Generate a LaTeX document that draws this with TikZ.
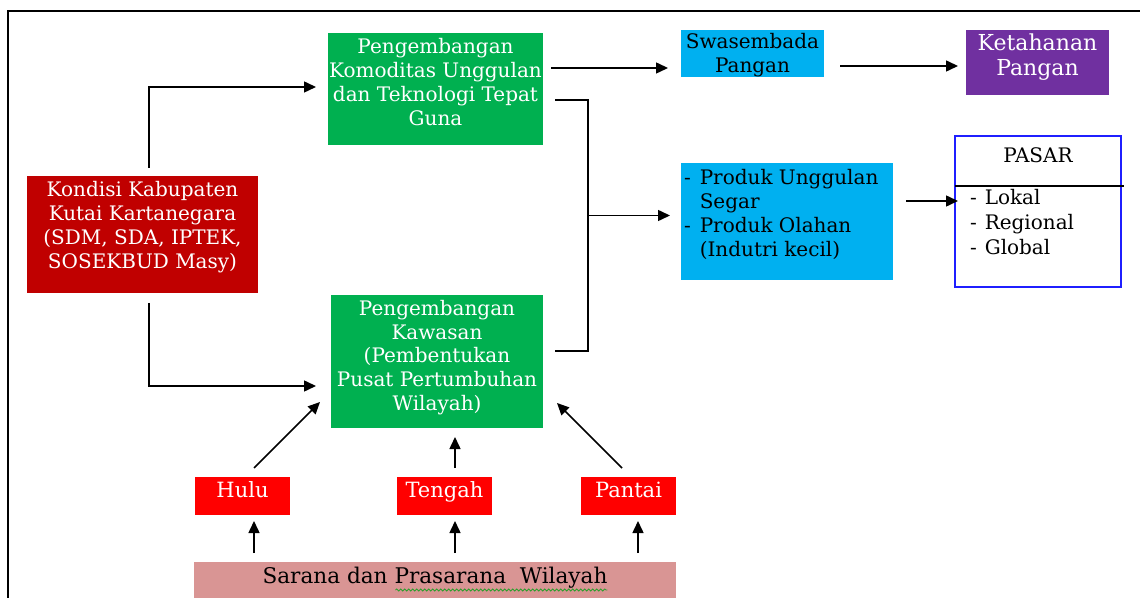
\documentclass[tikz,border=0pt]{standalone}
\usepackage{fontspec}
\setmainfont{DejaVu Serif}
\usetikzlibrary{arrows.meta,calc,decorations.pathmorphing}
\definecolor{cgreen}{HTML}{00B050}
\definecolor{cdred}{HTML}{C00000}
\definecolor{cblue}{HTML}{00B0F0}
\definecolor{cpurple}{HTML}{7030A0}
\definecolor{cred}{HTML}{FF0000}
\definecolor{cpink}{HTML}{D99594}
\definecolor{cframe}{HTML}{1F1FFF}
\definecolor{cspell}{HTML}{2E9E2E}
\begin{document}
\begin{tikzpicture}[x=0.5pt,y=-0.5pt,
  box/.style={anchor=north west, inner sep=0pt, outer sep=0pt},
  txt/.style={inner sep=0pt, outer sep=0pt, align=center, anchor=north, font=\fontsize{10}{11.9}\selectfont},
  wt/.style={txt, text=white},
  arr/.style={line width=0.75pt, -{Triangle[length=6pt,width=5.5pt]}},
  ln/.style={line width=0.75pt}]
\useasboundingbox (0,0) rectangle (1140,598);
\draw[line width=1pt] (8,600) -- (8,11) -- (1142,11);

% boxes
\node[box, fill=cgreen, minimum width=107.5pt, minimum height=56pt] (g1) at (328,33) {};
\node[box, fill=cdred, minimum width=115.5pt, minimum height=58.5pt] (k) at (27,176) {};
\node[box, fill=cgreen, minimum width=106pt, minimum height=66.5pt] (g2) at (331,295) {};
\node[box, fill=cblue, minimum width=71.5pt, minimum height=23.5pt] (sw) at (681,30) {};
\node[box, fill=cpurple, minimum width=71.5pt, minimum height=32.5pt] (kt) at (966,30) {};
\node[box, fill=cblue, minimum width=106pt, minimum height=58.5pt] (pr) at (681,163) {};
\node[box, draw=cframe, line width=0.7pt, minimum width=83pt, minimum height=75.5pt] (ps) at (955,136) {};
\node[box, fill=cred, minimum width=47.5pt, minimum height=19pt] (hu) at (195,477) {};
\node[box, fill=cred, minimum width=47.5pt, minimum height=19pt] (te) at (397,477) {};
\node[box, fill=cred, minimum width=47.5pt, minimum height=19pt] (pa) at (581,477) {};
\node[box, fill=cpink, minimum width=241pt, minimum height=22pt] (sa) at (194,562) {};

% texts
\node[wt] (g1t) at ([yshift=-2pt]g1.north) {\strut Pengembangan\\Komoditas Unggulan\\dan Teknologi Tepat\\Guna};
\node[wt] (kt1) at ([yshift=-2pt]k.north) {\strut Kondisi Kabupaten\\Kutai Kartanegara\\(SDM, SDA, IPTEK,\\SOSEKBUD Masy)};
\node[wt] (g2t) at ([yshift=-1.8pt]g2.north) {\strut Pengembangan\\Kawasan\\(Pembentukan\\Pusat Pertumbuhan\\Wilayah)};
\node[txt] (swt) at ([yshift=-1pt]sw.north) {\strut Swasembada\\Pangan};
\node[wt, font=\fontsize{11}{12.6}\selectfont] (ktt) at ([yshift=-1.3pt]kt.north) {\strut Ketahanan\\Pangan};
\node[txt, anchor=north west, align=left] (prt) at ($(pr.north west)+(3,5)$)
  {\begin{tabular}{@{}l@{\hspace{4.5pt}}l@{}}-&Produk Unggulan\\&Segar\\-&Produk Olahan\\&(Indutri kecil)\end{tabular}};
\node[txt, anchor=base] (pst) at ($(ps.north)+(0,27)$) {PASAR};
\draw[line width=0.6pt] ($(ps.north west)+(0,50)$) -- ($(ps.north east)+(3,50)$);
\node[txt, anchor=north west, align=left, font=\fontsize{10}{12.5}\selectfont] (psl) at ($(ps.north west)+(15,51)$)
  {\begin{tabular}{@{}l@{\hspace{4pt}}l@{}}-&Lokal\\-&Regional\\-&Global\end{tabular}};
\node[wt, anchor=base, font=\fontsize{10.5}{12}\selectfont] (hut) at ($(hu.north)+(0,20)$) {Hulu};
\node[wt, anchor=base, font=\fontsize{10.5}{12}\selectfont] (tet) at ($(te.north)+(0,20)$) {Tengah};
\node[wt, anchor=base, font=\fontsize{10.5}{12}\selectfont] (pat) at ($(pa.north)+(0,20)$) {Pantai};
\node[txt, anchor=base, font=\fontsize{10.8}{12}\selectfont] (sat) at ($(sa.north)+(0,21)$) {Sarana dan Prasarana\ \ Wilayah};
\draw[cspell, line width=0.4pt, decorate, decoration={snake, amplitude=0.5pt, segment length=2pt}]
  ($(sat.base east)+(-212,7)$) -- ($(sat.base east)+(0,7)$);

% connectors
\draw[arr] ($(k.north west)+(122,-8)$) |- ($(g1.west)+(-12,-2)$);
\draw[arr] ($(k.south west)+(122,10)$) |- ($(g2.west)+(-15,24.5)$);
\coordinate (a1) at ($(g1.east)+(8,-21)$);
\draw[arr] (a1) -- ($(sw.west |- a1)+(-13,0)$);
\coordinate (a2) at ($(sw.east)+(16,12.5)$);
\draw[arr] (a2) -- ($(kt.west |- a2)+(-8,0)$);
\coordinate (b1) at ($(g1.east)+(12,11)$);
\coordinate (b2) at ($(g2.east)+(12,-10.5)$);
\coordinate (bx) at ($(g1.east)+(45,0)$);
\draw[ln] (b1) -| (bx |- b2) -- (b2);
\coordinate (m) at ($(pr.west)+(-11,-6)$);
\draw[arr] (bx |- m) -- (m);
\coordinate (c1) at ($(pr.east)+(13,-20.5)$);
\draw[arr] (c1) -- ($(ps.west |- c1)+(3,0)$);
\draw[arr] ($(hu.north)+(11.5,-9)$) -- ($(g2.south west)+(-11,-26)$);
\coordinate (t1) at ($(te.north)+(10.5,-9)$);
\draw[arr] (t1) -- ($(t1 |- g2.south)+(0,9)$);
\draw[arr] ($(pa.north)+(-6.5,-9)$) -- ($(g2.south east)+(14,-25)$);
\coordinate (s1) at ($(sa.north west)+(60,-9)$);
\coordinate (s2) at ($(sa.north west)+(261,-9)$);
\coordinate (s3) at ($(sa.north west)+(444,-9)$);
\draw[arr] (s1) -- ($(s1 |- hu.south)+(0,6)$);
\draw[arr] (s2) -- ($(s2 |- te.south)+(0,6)$);
\draw[arr] (s3) -- ($(s3 |- pa.south)+(0,6)$);
\end{tikzpicture}
\end{document}
